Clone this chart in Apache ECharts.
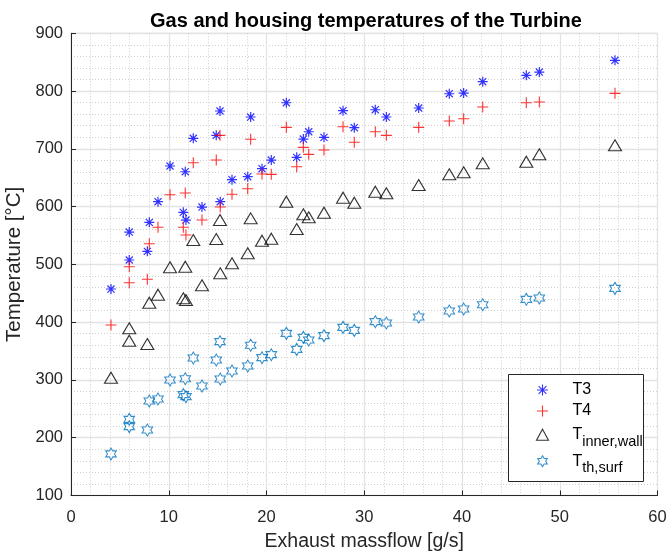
<!DOCTYPE html>
<html>
<head>
<meta charset="utf-8">
<script src="https://cdn.jsdelivr.net/npm/echarts@6/dist/echarts.min.js"></script>
<style>
html,body{margin:0;padding:0;background:#fff;}
#main{width:669px;height:554px;}
</style>
</head>
<body>
<div id="main"></div>
<script>
// ---- data ----
const massflow = [4.09, 5.96, 5.96, 7.81, 8.01, 8.90, 10.13, 11.49, 11.69, 11.76, 12.51, 13.40, 14.86, 15.24, 15.27, 16.47, 18.08, 18.38, 19.54, 20.49, 22.03, 23.09, 23.77, 24.32, 25.88, 27.83, 28.98, 31.13, 32.26, 35.57, 38.70, 40.17, 42.12, 46.58, 47.91, 55.65];
const T3 = [457.4, 507.6, 556.0, 522.6, 572.8, 608.5, 670.3, 590.1, 660.4, 576.8, 718.2, 599.3, 723.4, 765.5, 608.5, 646.6, 651.8, 755.1, 665.6, 680.6, 779.8, 685.3, 717.0, 729.6, 719.9, 766.0, 736.6, 767.7, 755.1, 770.7, 795.4, 796.6, 816.2, 827.2, 832.9, 853.2];
const T4 = [395.1, 468.3, 496.0, 474.2, 535.8, 564.2, 620.6, 564.2, 623.5, 550.8, 676.0, 576.8, 680.6, 723.4, 599.3, 621.3, 631.0, 716.5, 656.4, 655.9, 737.2, 669.1, 702.6, 690.5, 698.0, 738.3, 711.3, 729.6, 723.4, 737.2, 748.1, 752.1, 772.4, 779.8, 781.0, 796.1];
const Tinner = [303.9, 389.4, 367.9, 362.2, 433.7, 447.5, 494.9, 441.3, 496.0, 438.3, 542.2, 463.8, 543.9, 576.8, 484.6, 501.9, 519.2, 579.7, 541.0, 544.4, 608.5, 561.2, 586.7, 581.5, 589.4, 615.4, 606.7, 625.8, 623.0, 637.4, 655.9, 659.4, 674.9, 677.7, 690.5, 706.1];
const Tsurf = [171.9, 219.1, 231.9, 213.4, 263.6, 267.0, 299.9, 274.5, 302.1, 271.0, 338.0, 289.5, 334.5, 366.2, 301.6, 315.5, 324.1, 360.0, 338.5, 343.7, 380.7, 353.0, 373.8, 369.1, 376.6, 391.1, 385.9, 400.8, 398.6, 408.9, 419.3, 422.8, 430.2, 439.6, 441.8, 458.6];
const seriesNames = ['T3', 'T4', 'Tinner', 'Tsurf'];
const xTicks = {min: 0, max: 60, interval: 10};
const yTicks = {min: 100, max: 900, interval: 100};
const titleText = 'Gas and housing temperatures of the Turbine';
const xName = 'Exhaust massflow [g/s]';
const yName = 'Temperature [°C]';

// ---- marker shapes ----
function hexagramPath() {
  const R = 10, r = R / Math.sqrt(3);
  let p = '';
  for (let k = 0; k < 12; k++) {
    const a = (-90 + 30 * k) * Math.PI / 180;
    const rad = (k % 2 === 0) ? R : r;
    const x = (R + rad * Math.cos(a)).toFixed(3);
    const y = (R + rad * Math.sin(a)).toFixed(3);
    p += (k === 0 ? 'M' : 'L') + x + ',' + y;
  }
  return 'path://' + p + 'Z';
}
const asteriskPath = 'path://M0,5L10,5M5,0L5,10M1.46,1.46L8.54,8.54M1.46,8.54L8.54,1.46';
const plusPath = 'path://M0,5L10,5M5,0L5,10';

function pairs(ys) { return massflow.map((x, i) => [x, ys[i]]); }

const font = '"Liberation Sans", Arial, Helvetica, sans-serif';
const chart = echarts.init(document.getElementById('main'), null, {renderer: 'canvas'});

const legendNames = {
  T3: '{m|T3}',
  T4: '{m|T4}',
  Tinner: '{m|T}{s|inner,wall}',
  Tsurf: '{m|T}{s|th,surf}'
};

chart.setOption({
  animation: false,
  backgroundColor: '#fff',
  title: {
    text: titleText,
    left: 361, top: 6,
    textAlign: 'center',
    textStyle: {fontFamily: font, fontSize: 20, fontWeight: 'bold', color: '#000'}
  },
  grid: {left: 71, right: 11.5, top: 33.3, bottom: 58.5, show: true, borderColor: '#dcdcdc', borderWidth: 1,
         containLabel: false, outerBoundsMode: 'none'},
  xAxis: {
    type: 'value', min: xTicks.min, max: xTicks.max, interval: xTicks.interval,
    name: xName, nameLocation: 'middle', nameGap: 36,
    nameTextStyle: {fontFamily: font, fontSize: 19.5, color: '#262626'},
    axisLine: {show: true, onZero: false, lineStyle: {color: '#262626', width: 1}},
    axisTick: {show: true, inside: true, length: 5, lineStyle: {color: '#262626'}},
    axisLabel: {fontFamily: font, fontSize: 16.5, color: '#262626', margin: 13},
    splitLine: {show: true, lineStyle: {color: '#e3e3e3', width: 1.3}},
    minorTick: {show: false, splitNumber: 5},
    minorSplitLine: {show: true, lineStyle: {color: '#cfcfcf', width: 1, type: [1, 2]}}
  },
  yAxis: {
    type: 'value', min: yTicks.min, max: yTicks.max, interval: yTicks.interval,
    name: yName, nameLocation: 'middle', nameGap: 38, nameRotate: 90,
    nameTextStyle: {fontFamily: font, fontSize: 20.5, color: '#262626'},
    axisLine: {show: true, onZero: false, lineStyle: {color: '#262626', width: 1}},
    axisTick: {show: true, inside: true, length: 5, lineStyle: {color: '#262626'}},
    axisLabel: {fontFamily: font, fontSize: 16.5, color: '#262626', margin: 8},
    splitLine: {show: true, lineStyle: {color: '#e3e3e3', width: 1.3}},
    minorTick: {show: false, splitNumber: 5},
    minorSplitLine: {show: true, lineStyle: {color: '#cfcfcf', width: 1, type: [1, 2]}}
  },
  graphic: [{
    type: 'rect', z: 50, zlevel: 0,
    shape: {x: 508.5, y: 374.5, width: 135, height: 107},
    style: {fill: '#fff', stroke: '#262626', lineWidth: 1}
  }],
  legend: {
    z: 60,
    orient: 'vertical',
    left: 508, top: 375,
    padding: [3.5, 0, 0, 26],
    itemGap: -2,
    itemWidth: 12, itemHeight: 11,
    itemStyle: {borderWidth: 1.1},
    data: seriesNames,
    formatter: function (n) { return legendNames[n]; },
    textStyle: {
      fontFamily: font, color: '#000', fontSize: 16, lineHeight: 23,
      rich: {
        m: {fontFamily: font, fontSize: 16, lineHeight: 23, color: '#000', verticalAlign: 'middle', padding: [0, 0, 0, 19]},
        s: {fontFamily: font, fontSize: 14.5, lineHeight: 12, color: '#000', verticalAlign: 'middle', padding: [13.5, 0, 0, 0]}
      }
    }
  },
  series: [
    {name: 'T3', type: 'scatter', data: pairs(T3), symbol: asteriskPath, symbolSize: 10,
     itemStyle: {color: 'none', borderColor: '#0000ff', borderWidth: 1.2}},
    {name: 'T4', type: 'scatter', data: pairs(T4), symbol: plusPath, symbolSize: 11,
     itemStyle: {color: 'none', borderColor: '#ff0000', borderWidth: 1.1}},
    {name: 'Tinner', type: 'scatter', data: pairs(Tinner), symbol: 'triangle', symbolSize: [13, 11],
     itemStyle: {color: 'none', borderColor: '#000000', borderWidth: 1.1}},
    {name: 'Tsurf', type: 'scatter', data: pairs(Tsurf), symbol: hexagramPath(), symbolSize: [10.5, 12],
     itemStyle: {color: 'none', borderColor: '#0072bd', borderWidth: 1.1}}
  ]
});
</script>
</body>
</html>
